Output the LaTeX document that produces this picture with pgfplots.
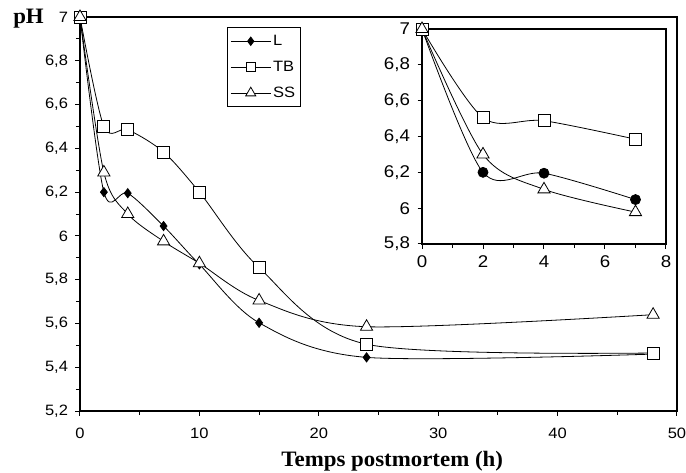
\documentclass[border=0pt]{standalone}
\usepackage{pgfplots}
\pgfplotsset{compat=1.18}
\usepackage{fontspec}
\setmainfont[FakeStretch=1.1]{Liberation Sans}
\newfontfamily\timesfont[FakeStretch=1.04]{Liberation Serif}

\begin{document}
\begin{tikzpicture}
\useasboundingbox (-80pt,-61pt) rectangle (606pt,411pt);
\begin{axis}[
  at={(0pt,0pt)}, anchor=south west,
  scale only axis, width=597pt, height=394pt,
  xmin=0, xmax=50, ymin=5.2, ymax=7,
  xtick={0,10,20,30,40,50}, minor xtick={5,15,25,35,45},
  ytick={5.2,5.4,5.6,5.8,6,6.2,6.4,6.6,6.8,7},
  minor ytick={5.3,5.5,5.7,5.9,6.1,6.3,6.5,6.7,6.9},
  tick pos=left, tick align=outside,
  major tick length=4.5pt, minor tick length=4pt,
  axis line style={line width=1.2pt},
  every tick/.style={line width=1pt, black},
  /pgf/number format/.cd, use comma, 1000 sep={}, assume math mode=true, /pgfplots/.cd,
  tick label style={font=\fontsize{15}{17}\selectfont},
  xticklabel style={yshift=-9pt},
  yticklabel style={xshift=-4pt},
  xlabel={\timesfont\bfseries Temps postmortem (h)},
  xlabel style={at={(rel axis cs:0.523,0)}, anchor=base, yshift=-55pt, font=\fontsize{22}{24}\selectfont},
  legend style={at={(rel axis cs:0.246,0.975)}, anchor=north west, draw=black, line width=1pt,
    font=\fontsize{15}{17}\selectfont, row sep=10pt, inner xsep=3pt, inner ysep=6pt,
    cells={anchor=west}},
  legend image code/.code={
    \draw[mark repeat=2,mark phase=2,#1] plot coordinates {(0pt,0pt) (20pt,0pt) (40pt,0pt)};
  },
  legend cell align=left,
]
\addplot[black, line width=0.8pt, smooth, tension=0.5, mark=diamond*, mark size=4.6pt, mark options={solid, fill=black}, forget plot]
  coordinates {(0,7) (2,6.2) (4,6.195) (7,6.045) (10,5.87) (15,5.603) (24,5.445) (48,5.46)};
\addplot[black, line width=0.8pt, smooth, tension=0.5, mark=square*, mark size=6pt, mark options={solid, fill=white}, forget plot]
  coordinates {(0,7) (2,6.5) (4,6.485) (7,6.383) (10,6.2) (15,5.855) (24,5.505) (48,5.465)};
\addplot[black, line width=0.8pt, smooth, tension=0.5, mark=triangle*, mark size=7pt, mark options={solid, fill=white}, forget plot]
  coordinates {(0,7) (2,6.29) (4,6.1) (7,5.975) (10,5.875) (15,5.705) (24,5.585) (48,5.64)};
\addlegendimage{black, line width=0.8pt, mark=diamond*, mark size=4.2pt, mark options={fill=black}}
\addlegendentry{L}
\addlegendimage{black, line width=0.8pt, mark=square*, mark size=4.8pt, mark options={fill=white}}
\addlegendentry{TB}
\addlegendimage{black, line width=0.8pt, mark=triangle*, mark size=5.8pt, mark options={fill=white}}
\addlegendentry{SS}
\end{axis}

\node[anchor=base east, inner sep=0pt, font=\fontsize{22}{24}\selectfont\timesfont\bfseries] at (-36pt,387pt) {pH};

\begin{axis}[
  at={(342pt,167pt)}, anchor=south west,
  scale only axis, width=244pt, height=215pt,
  xmin=0, xmax=8, ymin=5.8, ymax=7,
  xtick={0,2,4,6,8}, minor xtick={1,3,5,7},
  ytick={5.8,6,6.2,6.4,6.6,6.8,7},
  tick pos=left, tick align=outside,
  major tick length=4.5pt, minor tick length=4pt,
  axis line style={line width=1.2pt},
  every tick/.style={line width=1pt, black},
  axis background/.style={fill=white},
  /pgf/number format/.cd, use comma, 1000 sep={}, assume math mode=true, /pgfplots/.cd,
  tick label style={font=\fontsize{17}{19}\selectfont},
  xticklabel style={yshift=-4pt},
  yticklabel style={xshift=-4pt},
]
\addplot[black, line width=0.8pt, smooth, tension=0.5, mark=*, mark size=5pt, mark options={solid, fill=black}]
  coordinates {(0,7) (2,6.2) (4,6.195) (7,6.048)};
\addplot[black, line width=0.8pt, smooth, tension=0.5, mark=square*, mark size=6pt, mark options={solid, fill=white}]
  coordinates {(0,7) (2,6.505) (4,6.488) (7,6.385)};
\addplot[black, line width=0.8pt, smooth, tension=0.5, mark=triangle*, mark size=7pt, mark options={solid, fill=white}]
  coordinates {(0,7) (2,6.3) (4,6.105) (7,5.978)};
\end{axis}
\end{tikzpicture}
\end{document}
